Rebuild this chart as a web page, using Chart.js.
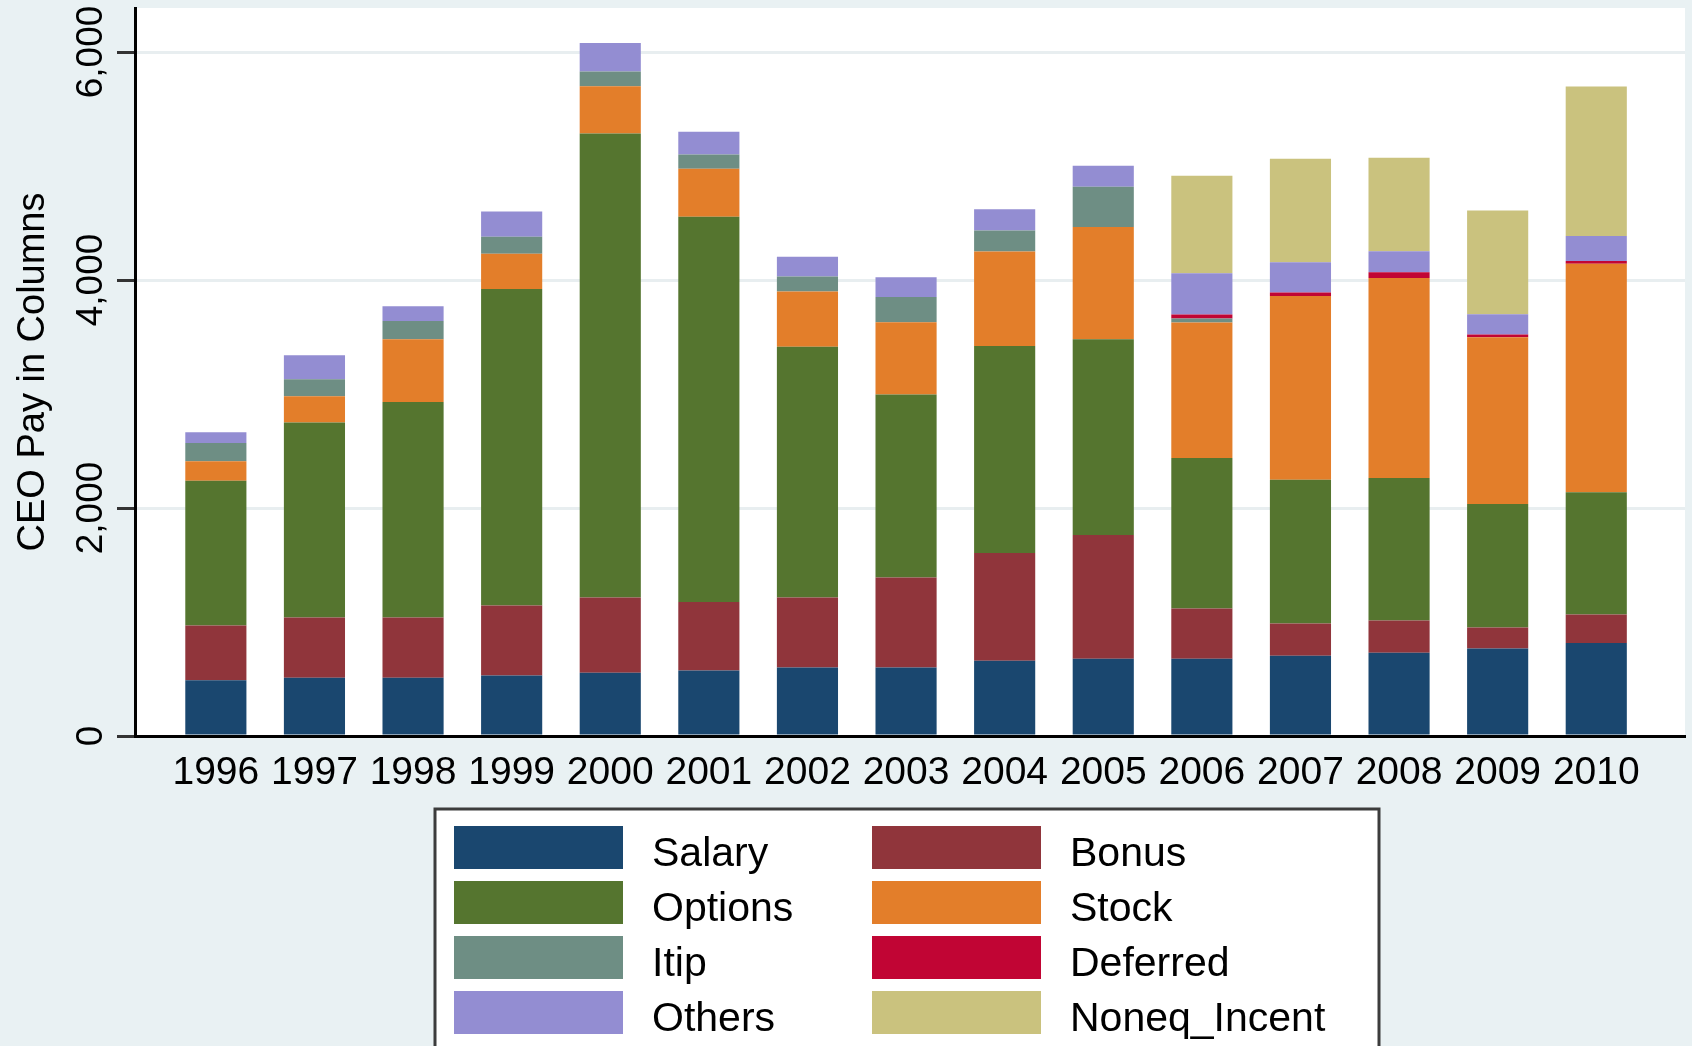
<!DOCTYPE html>
<html>
<head>
<meta charset="utf-8">
<title>CEO Pay in Columns</title>
<script src="https://cdn.jsdelivr.net/npm/chart.js@4.4.1/dist/chart.umd.min.js"></script>
<style>
  html, body { margin: 0; padding: 0; background: #e9f1f3; }
  #wrap { width: 1692px; height: 1046px; overflow: hidden; }
</style>
</head>
<body>
<div id="wrap"><canvas id="payChart" width="1692" height="1046"></canvas></div>
<script>
// values (thousands of dollars)
const years = [1996, 1997, 1998, 1999, 2000, 2001, 2002, 2003, 2004, 2005, 2006, 2007, 2008, 2009, 2010];
const salary = [490, 510, 510, 530, 555, 575, 600, 600, 660, 678, 678, 705, 731, 767, 815];
const bonus = [480, 530, 530, 615, 660, 600, 615, 790, 945, 1085, 440, 282, 282, 185, 250];
const options = [1270, 1710, 1890, 2775, 4070, 3380, 2200, 1605, 1815, 1718, 1320, 1260, 1250, 1083, 1073];
const stock = [170, 230, 550, 310, 415, 420, 485, 635, 830, 985, 1190, 1612, 1754, 1463, 2004];
const itip = [160, 150, 160, 150, 130, 125, 130, 220, 185, 352, 35, 0, 0, 0, 0];
const deferred = [0, 0, 0, 0, 0, 0, 0, 0, 0, 0, 35, 32, 50, 25, 25];
const others = [95, 210, 130, 220, 250, 200, 175, 175, 185, 185, 362, 265, 185, 176, 220];
const noneqIncent = [0, 0, 0, 0, 0, 0, 0, 0, 0, 0, 854, 908, 820, 910, 1310];
const yTicks = [0, 2000, 4000, 6000];
const yMax = 6386;

const series = [
  { label: "Salary", data: salary, color: "#1a476f" },
  { label: "Bonus", data: bonus, color: "#90353b" },
  { label: "Options", data: options, color: "#55752f" },
  { label: "Stock", data: stock, color: "#e37e2a" },
  { label: "Itip", data: itip, color: "#6e8e84" },
  { label: "Deferred", data: deferred, color: "#c10534" },
  { label: "Others", data: others, color: "#938dd2" },
  { label: "Noneq_Incent", data: noneqIncent, color: "#cac27e" },
];

const FONT = "'Liberation Sans', Arial, Helvetica, sans-serif";

// grey page + white plot region, like Stata's s2color scheme
const plotRegion = {
  id: "plotRegion",
  beforeDraw(chart) {
    const { ctx, chartArea: a } = chart;
    ctx.save();
    ctx.fillStyle = "#e9f1f3";
    ctx.fillRect(0, 0, chart.width, chart.height);
    ctx.fillStyle = "#ffffff";
    ctx.fillRect(a.left, a.top, a.right - a.left, a.bottom - a.top);
    ctx.restore();
  },
};

// two-column legend box under the axis
const boxLegend = {
  id: "boxLegend",
  afterDraw(chart) {
    const ctx = chart.ctx;
    const box = { left: 435, top: 809, right: 1379 };
    const sw = { w: 169, h: 43, pitch: 55, first: 826 };
    const colX = [454, 872];
    ctx.save();
    ctx.fillStyle = "#ffffff";
    ctx.fillRect(box.left, box.top, box.right - box.left, chart.height - box.top + 20);
    ctx.strokeStyle = "#3c3c3c";
    ctx.lineWidth = 3;
    ctx.strokeRect(box.left, box.top, box.right - box.left, chart.height - box.top + 20);
    ctx.font = "41px " + FONT;
    ctx.textBaseline = "middle";
    ctx.textAlign = "left";
    chart.data.datasets.forEach(function (ds, i) {
      const x = colX[i % 2];
      const y = sw.first + Math.floor(i / 2) * sw.pitch;
      ctx.fillStyle = ds.backgroundColor;
      ctx.fillRect(x, y, sw.w, sw.h);
      ctx.fillStyle = "#000000";
      ctx.fillText(ds.label, x + 198, y + sw.h / 2 + 7);
    });
    ctx.restore();
  },
};

const ctx = document.getElementById("payChart").getContext("2d");
new Chart(ctx, {
  type: "bar",
  data: {
    labels: years.map(String),
    datasets: series.map(function (s) {
      return {
        label: s.label,
        data: s.data,
        backgroundColor: s.color,
        borderWidth: 0,
        categoryPercentage: 0.62,
        barPercentage: 1.0,
      };
    }),
  },
  options: {
    responsive: false,
    devicePixelRatio: 1,
    animation: false,
    layout: { padding: { top: 8, right: 7, left: 0, bottom: 0 } },
    plugins: {
      legend: { display: false },
      tooltip: { enabled: false },
    },
    scales: {
      x: {
        type: "linear",
        stacked: true,
        offset: false,
        min: years[0] - 0.82,
        max: years[years.length - 1] + 0.9,
        afterBuildTicks: function (scale) {
          scale.ticks = years.map(function (v) { return { value: v }; });
        },
        afterFit: function (scale) {
          scale.height = 310;
          scale.paddingLeft = 0;
          scale.paddingRight = 0;
        },
        grid: { display: false, offset: false },
        border: { display: true, color: "#000000", width: 3 },
        ticks: {
          autoSkip: false,
          maxRotation: 0,
          minRotation: 0,
          padding: 6,
          color: "#000000",
          font: { family: FONT, size: 39 },
          callback: function (v) { return String(v); },
        },
      },
      y: {
        stacked: true,
        min: 0,
        max: yMax,
        afterBuildTicks: function (scale) {
          scale.ticks = yTicks.map(function (v) { return { value: v }; });
        },
        afterFit: function (scale) {
          scale.width = 135;
          scale.paddingTop = 0;
          scale.paddingBottom = 0;
        },
        grid: {
          color: function (c) { return c.tick && c.tick.value === 0 ? "rgba(0,0,0,0)" : "#e8eef0"; },
          lineWidth: 3,
          tickColor: "#333333",
          tickLength: 18,
          tickWidth: 3,
        },
        border: { display: true, color: "#000000", width: 3 },
        ticks: {
          minRotation: 90,
          maxRotation: 90,
          crossAlign: "center",
          padding: -21,
          color: "#000000",
          font: { family: FONT, size: 37 },
          callback: function (v) { return v.toLocaleString("en-US"); },
        },
        title: {
          display: true,
          text: "CEO Pay in Columns",
          color: "#000000",
          font: { family: FONT, size: 38 },
          padding: { top: 11, bottom: 0 },
        },
      },
    },
  },
  plugins: [plotRegion, boxLegend],
});
</script>
</body>
</html>
